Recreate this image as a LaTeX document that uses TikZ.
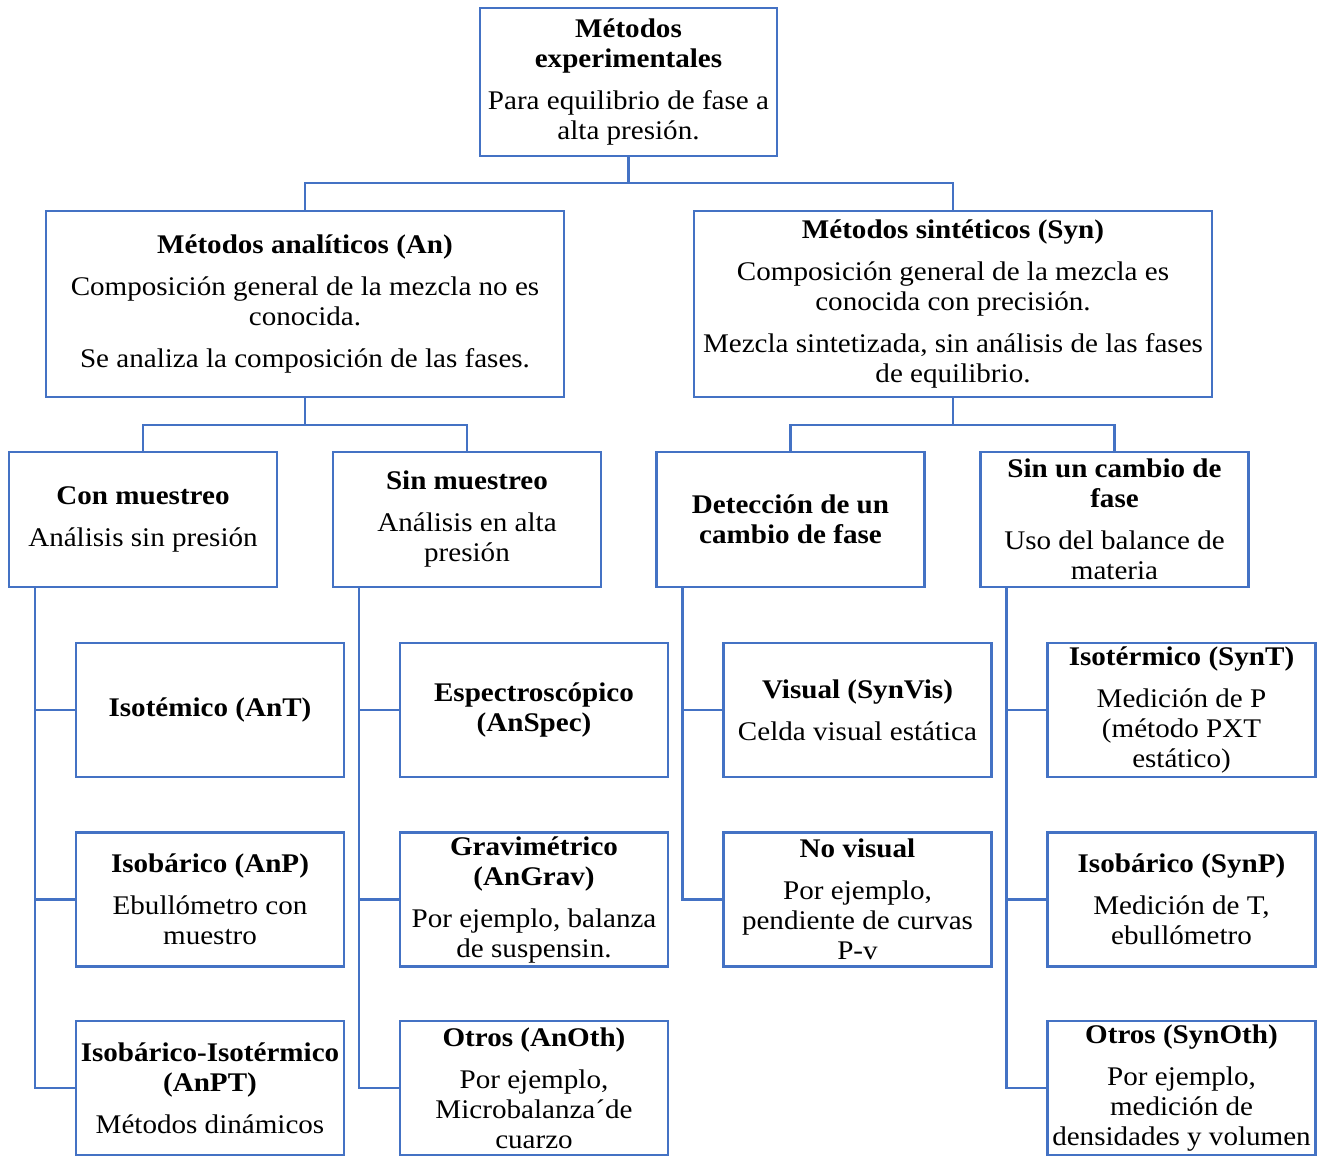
\documentclass[tikz,border=0pt]{standalone}
\usepackage{fontspec}
\setmainfont{Liberation Serif}[FakeStretch=1.08]
\definecolor{boxblue}{HTML}{4472C4}
\tikzset{
  box/.style={draw=boxblue, line width=1.8pt, align=center, inner sep=0pt, fill=white,
    font=\fontsize{20.2pt}{22.5pt}\selectfont},
  leaf/.style={box, minimum width=201pt, minimum height=100.5pt},
  midbox/.style={box, minimum width=201pt, minimum height=101.25pt},
  conn/.style={draw=boxblue, line width=1.8pt}
}
\begin{document}
\begin{tikzpicture}[x=0.75pt,y=-0.75pt]
\useasboundingbox (0,0) rectangle (1320,1156);
% level 1
\node[box, minimum width=222.75pt, minimum height=111pt] (top) at (628.5,82)
  {\textbf{Métodos}\\ \textbf{experimentales}\\[9pt] Para equilibrio de fase a\\ alta presión.};
% level 2
\node[box, minimum width=388.5pt, minimum height=139.5pt] (an) at (305,304)
  {\textbf{Métodos analíticos (An)}\\[9pt] Composición general de la mezcla no es\\ conocida.\\[9pt] Se analiza la composición de las fases.};
\node[box, minimum width=388.5pt, minimum height=139.5pt] (syn) at (953,304)
  {\textbf{Métodos sintéticos (Syn)}\\[9pt] Composición general de la mezcla es\\ conocida con precisión.\\[9pt] Mezcla sintetizada, sin análisis de las fases\\ de equilibrio.};
% level 3
\node[midbox] (cm) at (143,519.5) {\textbf{Con muestreo}\\[9pt] Análisis sin presión};
\node[midbox] (sm) at (467,519.5) {\textbf{Sin muestreo}\\[9pt] Análisis en alta\\ presión};
\node[midbox] (det) at (790.5,519.5) {\textbf{Detección de un}\\ \textbf{cambio de fase}};
\node[midbox] (sc) at (1114.5,519.5) {\textbf{Sin un cambio de}\\ \textbf{fase}\\[9pt] Uso del balance de\\ materia};
% leaves column 1
\node[leaf] (a1) at (210,710) {\textbf{Isotémico (AnT)}};
\node[leaf] (a2) at (210,899.5) {\textbf{Isobárico (AnP)}\\[9pt] Ebullómetro con\\ muestro};
\node[leaf] (a3) at (210,1088) {\textbf{Isobárico-Isotérmico}\\ \textbf{(AnPT)}\\[9pt] Métodos dinámicos};
% leaves column 2
\node[leaf] (b1) at (534,710) {\textbf{Espectroscópico}\\ \textbf{(AnSpec)}};
\node[leaf] (b2) at (534,899.5) {\textbf{Gravimétrico}\\ \textbf{(AnGrav)}\\[9pt] Por ejemplo, balanza\\ de suspensin.};
\node[leaf] (b3) at (534,1088) {\textbf{Otros (AnOth)}\\[9pt] Por ejemplo,\\ Microbalanza´de\\ cuarzo};
% leaves column 3
\node[leaf] (c1) at (857.5,710) {\textbf{Visual (SynVis)}\\[9pt] Celda visual estática};
\node[leaf] (c2) at (857.5,899.5) {\textbf{No visual}\\[9pt] Por ejemplo,\\ pendiente de curvas\\ P-v};
% leaves column 4
\node[leaf] (d1) at (1181.5,710) {\textbf{Isotérmico (SynT)}\\[9pt] Medición de P\\ (método PXT\\ estático)};
\node[leaf] (d2) at (1181.5,899.5) {\textbf{Isobárico (SynP)}\\[9pt] Medición de T,\\ ebullómetro};
\node[leaf] (d3) at (1181.5,1088) {\textbf{Otros (SynOth)}\\[9pt] Por ejemplo,\\ medición de\\ densidades y volumen};
% junctions
\coordinate (j0) at (628.5,183);
\coordinate (j1) at (305,425);
\coordinate (j2) at (953,425);
\draw[conn] (top.south) -- (j0);
\draw[conn] (an.north) |- (j0) -| (syn.north);
\draw[conn] (an.south) -- (j1);
\draw[conn] (cm.north) |- (j1) -| (sm.north);
\draw[conn] (syn.south) -- (j2);
\draw[conn] (det.north) |- (j2) -| (sc.north);
% branches
\draw[conn] ([xshift=20.25pt]cm.south west) |- (a3.west);
\draw[conn] ([xshift=20.25pt]cm.south west) |- (a2.west);
\draw[conn] ([xshift=20.25pt]cm.south west) |- (a1.west);
\draw[conn] ([xshift=20.25pt]sm.south west) |- (b3.west);
\draw[conn] ([xshift=20.25pt]sm.south west) |- (b2.west);
\draw[conn] ([xshift=20.25pt]sm.south west) |- (b1.west);
\draw[conn] ([xshift=20.25pt]det.south west) |- (c2.west);
\draw[conn] ([xshift=20.25pt]det.south west) |- (c1.west);
\draw[conn] ([xshift=20.25pt]sc.south west) |- (d3.west);
\draw[conn] ([xshift=20.25pt]sc.south west) |- (d2.west);
\draw[conn] ([xshift=20.25pt]sc.south west) |- (d1.west);
\end{tikzpicture}
\end{document}
